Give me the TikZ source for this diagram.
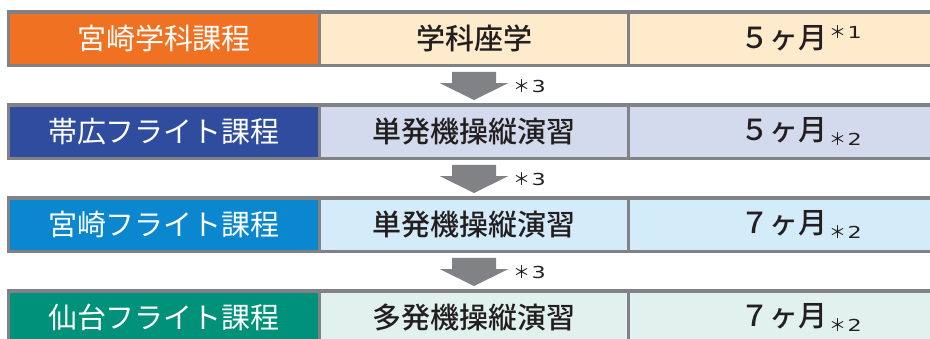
\documentclass[tikz,border=0pt]{standalone}
\usepackage{fontspec}
\usepackage{graphicx}
\setmainfont{Noto Sans CJK JP}
\newfontfamily\jpmed{Noto Sans CJK JP Medium}
\newfontfamily\notedigitfont{DejaVu Sans}
\usetikzlibrary{calc}
\definecolor{bordergray}{HTML}{808285}
\definecolor{arrowgray}{HTML}{808285}
\definecolor{textdark}{HTML}{231F20}
\definecolor{orangeA}{HTML}{F07122}
\definecolor{navyA}{HTML}{2F4C9F}
\definecolor{cyanA}{HTML}{0A87CF}
\definecolor{tealA}{HTML}{00917A}
\definecolor{peachB}{HTML}{FDEBCC}
\definecolor{lavB}{HTML}{D4DAED}
\definecolor{skyB}{HTML}{D4ECF9}
\definecolor{mintB}{HTML}{E1F1ED}
\tikzset{
  cell/.style={draw=bordergray, line width=3.5pt, minimum height=53.5pt,
    inner sep=0pt, outer sep=0pt, font=\jpmed\fontsize{29}{29}\selectfont, text=textdark},
  headcell/.style={cell, text=white, minimum width=311pt, font=\normalfont\fontsize{29}{29}\selectfont},
  midcell/.style={cell, minimum width=309pt},
  endcell/.style={cell, minimum width=310pt},
  note/.style={font=\fontsize{17}{17}\selectfont, text=textdark, anchor=base west, inner sep=0pt}
}
\newcommand\widedigit[1]{{\notedigitfont\fontsize{16.5}{16.5}\selectfont\scalebox{1.35}[1]{#1}}}
\newcommand\notemark[1]{＊\hspace{1.5pt}\widedigit{#1}}
\newcommand\supnote[1]{\rlap{\hspace{2pt}\raisebox{10pt}{\normalfont\fontsize{17}{17}\selectfont\notemark{#1}}}}
\newcommand\subnote[1]{\rlap{\hspace{2pt}\raisebox{-5pt}{\normalfont\fontsize{17}{17}\selectfont\notemark{#1}}}}
\newcommand\blockarrow[2]{%
  \fill[arrowgray] ($(#1.south)+(-22,6.5)$) -- ($(#1.south)+(22,6.5)$)
    -- ($(#1.south)+(22,17.75)$) -- ($(#1.south)+(34.5,17.75)$)
    -- ($(#2.north)+(0,-4.75)$)
    -- ($(#1.south)+(-34.5,17.75)$) -- ($(#1.south)+(-22,17.75)$) -- cycle;}
\begin{document}
\begin{tikzpicture}[x=1pt,y=-1pt]
\useasboundingbox (0,0) rectangle (930,338);
\clip (0,0) rectangle (930,338);
% row 1
\node[headcell, fill=orangeA] (r1a) at (164,38.5) {宮崎学科課程};
\node[midcell, fill=peachB] (r1b) at (474,38.5) {学科座学};
\node[endcell, fill=peachB] (r1c) at (783.5,38.5) {５ヶ月\supnote{1}};
% row 2
\node[headcell, fill=navyA] (r2a) at (164,131.5) {帯広フライト課程};
\node[midcell, fill=lavB] (r2b) at (474,131.5) {単発機操縦演習};
\node[endcell, fill=lavB] (r2c) at (783.5,131.5) {５ヶ月\subnote{2}};
% row 3
\node[headcell, fill=cyanA] (r3a) at (164,224.5) {宮崎フライト課程};
\node[midcell, fill=skyB] (r3b) at (474,224.5) {単発機操縦演習};
\node[endcell, fill=skyB] (r3c) at (783.5,224.5) {７ヶ月\subnote{2}};
% row 4
\node[headcell, fill=tealA] (r4a) at (164,317.5) {仙台フライト課程};
\node[midcell, fill=mintB] (r4b) at (474,317.5) {多発機操縦演習};
\node[endcell, fill=mintB] (r4c) at (783.5,317.5) {７ヶ月\subnote{2}};
% arrows
\blockarrow{r1b}{r2b}
\blockarrow{r2b}{r3b}
\blockarrow{r3b}{r4b}
\node[note] (n1) at ($(r1b.south)!0.5!(r2b.north)+(39,7)$) {\notemark{3}};
\node[note] (n2) at ($(r2b.south)!0.5!(r3b.north)+(39,7)$) {\notemark{3}};
\node[note] (n3) at ($(r3b.south)!0.5!(r4b.north)+(39,7)$) {\notemark{3}};
\end{tikzpicture}
\end{document}
